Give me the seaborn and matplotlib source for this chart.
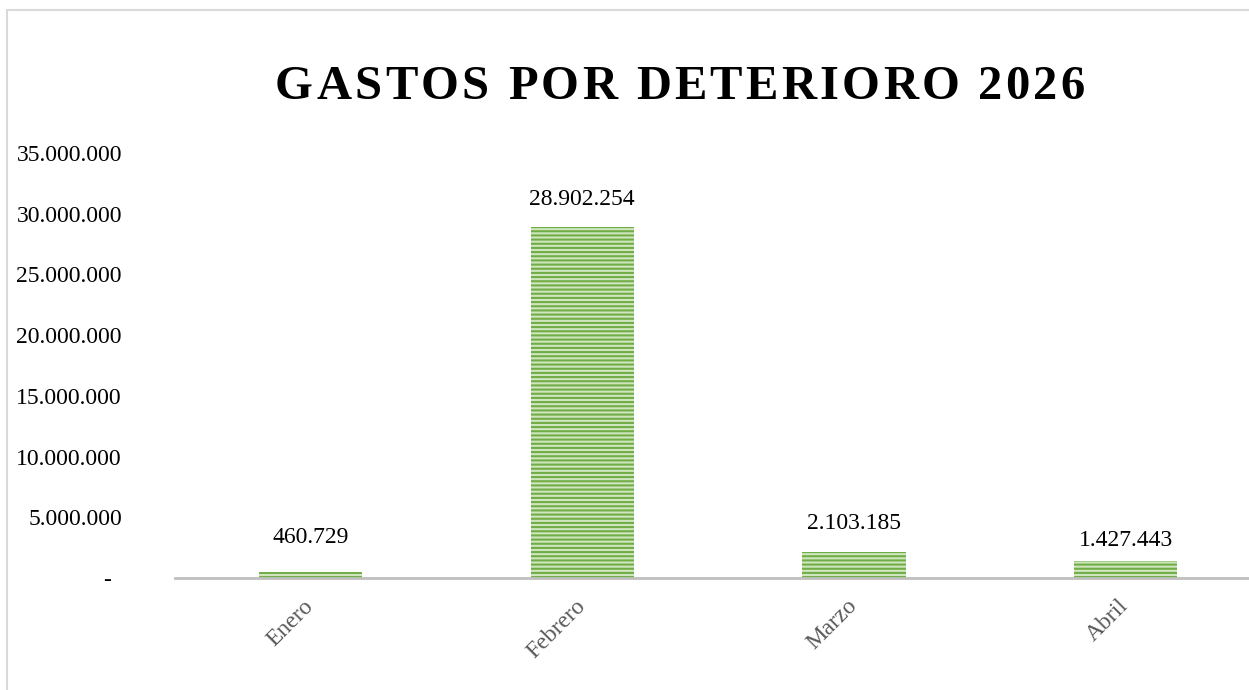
import matplotlib
matplotlib.use("Agg")
import matplotlib.pyplot as plt
import matplotlib.transforms as mtransforms
from matplotlib.patches import Rectangle
import seaborn as sns
import pandas as pd

# ---- data ----
months = ["Enero", "Febrero", "Marzo", "Abril"]
values = [460729, 28902254, 2103185, 1427443]
y_ticks = [0, 5000000, 10000000, 15000000, 20000000, 25000000, 30000000, 35000000]
title_text = "GASTOS POR DETERIORO 2026"

# styling: vertical gap (px) between each bar top and its data label centre
label_gap_px = [37, 30, 31, 23]

def fmt(v):
    return "-" if v == 0 else f"{v:,.0f}".replace(",", ".")

sns.set_theme(style="white")
plt.rcParams["font.family"] = ["Liberation Serif", "DejaVu Serif"]
plt.rcParams["hatch.linewidth"] = 1.5

W, H = 1249, 690
fig = plt.figure(figsize=(W / 100, H / 100), dpi=100)
fig.patch.set_facecolor("white")

# outer chart border (light gray, clipped by the image on right/bottom)
fig.patches.append(Rectangle((7 / W, -0.2), 1.2, 1 - 10 / H + 0.2,
                             transform=fig.transFigure, fill=False,
                             edgecolor="#d9d9d9", linewidth=1.5))

ax = fig.add_axes([174.7 / W, 1 - 578 / H, 1086.8 / W, 425 / H])
df = pd.DataFrame({"mes": months, "valor": values})
sns.barplot(data=df, x="mes", y="valor", ax=ax, width=0.38, color="#70ad47")

for p in ax.patches:
    p.set_facecolor("#cfe6be")
    p.set_edgecolor("#70ad47")
    p.set_hatch("----")
    p.set_linewidth(0)

ax.set_xlim(-0.5, 3.5)
ax.set_ylim(0, 35000000)
ax.set_yticks(y_ticks)
ax.set_yticklabels([fmt(v) for v in y_ticks])
ax.set_xlabel("")
ax.set_ylabel("")
ax.tick_params(axis="y", length=0, pad=38, labelsize=17, labelcolor="black")
ax.tick_params(axis="x", length=0, pad=18, labelsize=17, labelcolor="#595959")
for lab in ax.get_xticklabels():
    lab.set_rotation(45)
    lab.set_rotation_mode("anchor")
    lab.set_ha("right")
    lab.set_va("center")

# shift the "-" zero label left like Excel's accounting format
zero_lab = ax.get_yticklabels()[0]
zero_lab.set_transform(zero_lab.get_transform() +
                       mtransforms.ScaledTranslation(-11 / 100, 0, fig.dpi_scale_trans))

for s in ["top", "right", "left"]:
    ax.spines[s].set_visible(False)
ax.spines["bottom"].set_color("#bfbfbf")
ax.spines["bottom"].set_linewidth(2.0)
ax.grid(False)

# data labels
for i, v in enumerate(values):
    ax.annotate(fmt(v), xy=(i, v), xytext=(0, label_gap_px[i] * 0.72),
                textcoords="offset points",
                ha="center", va="center_baseline", fontsize=17, color="black")

# letter-spaced bold title
renderer = fig.canvas.get_renderer()
title_fs = 35
target_left, target_right, title_baseline = 275, 1085, 99
chars = list(title_text)
widths = []
for c in chars:
    if c == " ":
        t = fig.text(0, 0, "a a", fontsize=title_fs, fontweight="bold")
        t2 = fig.text(0, 0, "aa", fontsize=title_fs, fontweight="bold")
        w = t.get_window_extent(renderer).width - t2.get_window_extent(renderer).width
        t.remove(); t2.remove()
    else:
        t = fig.text(0, 0, c, fontsize=title_fs, fontweight="bold")
        w = t.get_window_extent(renderer).width
        t.remove()
    widths.append(w)
track = (target_right - target_left - sum(widths)) / (len(chars) - 1)
x = target_left
for c, w in zip(chars, widths):
    if c != " ":
        fig.text(x / W, 1 - title_baseline / H, c, fontsize=title_fs, fontweight="bold",
                 ha="left", va="baseline", color="black")
    x += w + track

fig.savefig("out.png", dpi=100)
